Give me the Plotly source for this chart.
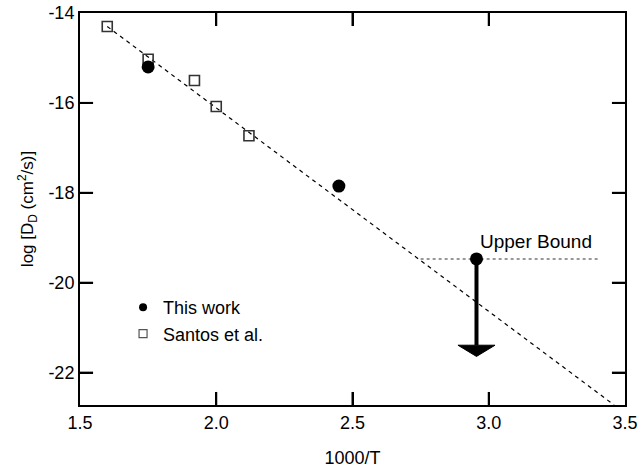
import plotly.graph_objects as go

# Data
this_work_x = [1.75, 2.45, 2.955]
this_work_y = [-15.2, -17.85, -19.47]
santos_x = [1.60, 1.75, 1.92, 2.00, 2.12]
santos_y = [-14.3, -15.03, -15.5, -16.08, -16.73]
fit_x = [1.60, 3.46]
fit_y = [-14.3, -22.72]
bound_x = [2.75, 3.40]
bound_level = -19.47
bound_point_x = 2.955
arrow_tip_y = -21.64

x_ticks = [1.5, 2.0, 2.5, 3.0, 3.5]
x_tick_labels = ["1.5", "2.0", "2.5", "3.0", "3.5"]
y_ticks = [-22, -20, -18, -16, -14]
y_tick_labels = ["-22", "-20", "-18", "-16", "-14"]

x_range = [1.5, 3.5]
y_range = [-22.72, -14]

FONT = "Liberation Sans, Arial, sans-serif"

fig = go.Figure()

fig.add_trace(go.Scatter(x=fit_x, y=fit_y, mode="lines",
                         line=dict(color="black", width=1.2, dash="4px,4px"),
                         showlegend=False, hoverinfo="skip"))
fig.add_trace(go.Scatter(x=bound_x, y=[bound_level, bound_level], mode="lines",
                         line=dict(color="#777777", width=1.5, dash="dot"),
                         showlegend=False, hoverinfo="skip"))
head_h = 0.25
head_hw = 0.068
fig.add_trace(go.Scatter(x=[bound_point_x, bound_point_x],
                         y=[bound_level, arrow_tip_y + head_h], mode="lines",
                         line=dict(color="black", width=4),
                         showlegend=False, hoverinfo="skip"))
fig.add_trace(go.Scatter(x=[bound_point_x - head_hw, bound_point_x + head_hw, bound_point_x, bound_point_x - head_hw],
                         y=[arrow_tip_y + head_h, arrow_tip_y + head_h, arrow_tip_y, arrow_tip_y + head_h],
                         mode="lines", fill="toself", fillcolor="black",
                         line=dict(color="black", width=1),
                         showlegend=False, hoverinfo="skip"))
fig.add_trace(go.Scatter(x=santos_x, y=santos_y, mode="markers",
                         marker=dict(symbol="square-open", size=10, color="#333333", line=dict(width=1.6)),
                         showlegend=False))
fig.add_trace(go.Scatter(x=this_work_x, y=this_work_y, mode="markers",
                         marker=dict(symbol="circle", size=13, color="black"),
                         showlegend=False))
fig.add_trace(go.Scatter(x=[None], y=[None], mode="markers", name="This work",
                         marker=dict(symbol="circle", size=8, color="black")))
fig.add_trace(go.Scatter(x=[None], y=[None], mode="markers", name="Santos et al.",
                         marker=dict(symbol="square-open", size=8, color="#555555", line=dict(width=1.2))))

fig.add_annotation(x=3.173, y=-19.09, text="Upper Bound", showarrow=False,
                   font=dict(family=FONT, size=19, color="black"))

# inward tick marks on all four sides, drawn as line segments at the tick values
tx_len = 0.048   # ~13 px along x
ty_len = 0.29    # ~13 px along y
tick_xs, tick_ys = [], []
for xv in x_ticks[1:-1]:
    tick_xs += [xv, xv, None, xv, xv, None]
    tick_ys += [y_range[0], y_range[0] + ty_len, None, y_range[1], y_range[1] - ty_len, None]
for yv in y_ticks[:-1]:
    tick_xs += [x_range[0], x_range[0] + tx_len, None, x_range[1], x_range[1] - tx_len, None]
    tick_ys += [yv, yv, None, yv, yv, None]
fig.add_trace(go.Scatter(x=tick_xs, y=tick_ys, mode="lines",
                         line=dict(color="black", width=2),
                         showlegend=False, hoverinfo="skip"))

axis_common = dict(showline=True, linecolor="black", linewidth=2, mirror="ticks",
                   ticks="inside", ticklen=13, tickwidth=1.5, tickcolor="black",
                   showgrid=False, zeroline=False,
                   tickfont=dict(family=FONT, size=18, color="black"))

fig.update_xaxes(range=x_range, tickmode="array", tickvals=x_ticks, ticktext=x_tick_labels,
                 title=dict(text="1000/T", font=dict(family=FONT, size=18, color="black"), standoff=20),
                 **axis_common)
fig.update_yaxes(range=y_range, tickmode="array", tickvals=y_ticks, ticktext=y_tick_labels,
                 title=dict(text="log [D<sub>D</sub> (cm<sup>2</sup>/s)]",
                            font=dict(family=FONT, size=17, color="black"), standoff=10),
                 **axis_common)

fig.update_layout(width=641, height=472, margin=dict(l=80, r=16, t=13, b=67, autoexpand=False),
                  paper_bgcolor="white", plot_bgcolor="white",
                  font=dict(family=FONT, color="black"),
                  legend=dict(x=0.079, y=0.296, xanchor="left", yanchor="top",
                              bgcolor="rgba(0,0,0,0)", font=dict(family=FONT, size=18, color="black"),
                              tracegroupgap=0),
                  showlegend=True)

fig.write_html("out.html")
